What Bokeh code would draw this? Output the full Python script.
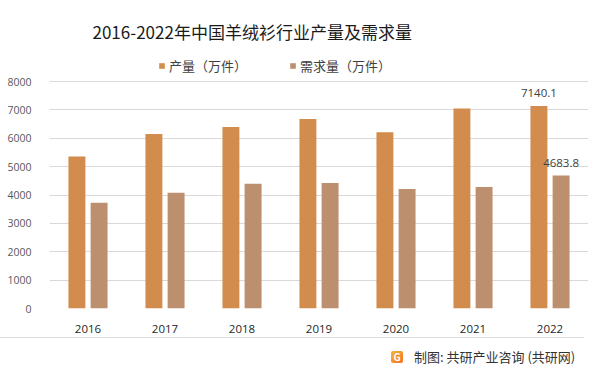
from bokeh.plotting import figure
from bokeh.models import (ColumnDataSource, FactorRange, Range1d, FixedTicker, Legend, LegendItem,
                          LabelSet, Div)
from bokeh.core.properties import value
from bokeh.layouts import column
from bokeh.transform import dodge
from bokeh.embed import file_html
from bokeh.resources import INLINE

years = ["2016", "2017", "2018", "2019", "2020", "2021", "2022"]
production = [5360, 6150, 6400, 6680, 6210, 7050, 7140.1]
demand = [3730, 4080, 4400, 4420, 4210, 4280, 4683.8]
y_ticks = [0, 1000, 2000, 3000, 4000, 5000, 6000, 7000, 8000]
series_names = ["产量（万件）", "需求量（万件）"]
title_text = "2016-2022年中国羊绒衫行业产量及需求量"
source_text = "制图: 共研产业咨询 (共研网)"

FONT = "Noto Sans CJK SC"
NUMFONT = "Open Sans"
C_PROD = "#D28C4D"
C_DEM = "#BC8F6E"

src = ColumnDataSource(dict(year=years, prod=production, dem=demand))
lab_src = ColumnDataSource(dict(year=[years[-1]], prod=[production[-1]], dem=[demand[-1]],
                                prod_t=[f"{production[-1]:.1f}"], dem_t=[f"{demand[-1]:.1f}"]))

p = figure(width=590, height=336, x_range=FactorRange(*years, range_padding=0),
           y_range=Range1d(0, 9163), output_backend="svg", toolbar_location=None,
           min_border_left=49, min_border_right=2, min_border_top=48, min_border_bottom=28)
p.outline_line_color = None
p.background_fill_color = "white"
p.border_fill_color = "white"

r1 = p.vbar(x=dodge("year", -0.144, range=p.x_range), top="prod", width=0.22, source=src,
            fill_color=C_PROD, line_color=None)
r2 = p.vbar(x=dodge("year", 0.144, range=p.x_range), top="dem", width=0.22, source=src,
            fill_color=C_DEM, line_color=None)

p.add_layout(LabelSet(x=dodge("year", -0.144, range=p.x_range), y="prod", text="prod_t", source=lab_src,
                      text_align="center", text_baseline="middle", y_offset=13,
                      text_font=value(NUMFONT), text_font_size=value("11.5px"), text_color="#404040"))
p.add_layout(LabelSet(x=dodge("year", 0.144, range=p.x_range), y="dem", text="dem_t", source=lab_src,
                      text_align="center", text_baseline="middle", y_offset=13,
                      text_font=value(NUMFONT), text_font_size=value("11.5px"), text_color="#404040"))

p.xgrid.grid_line_color = None
p.ygrid.grid_line_color = "#d9d9d9"
p.ygrid.ticker = FixedTicker(ticks=y_ticks)

p.yaxis.ticker = FixedTicker(ticks=y_ticks)
p.yaxis.axis_line_color = None
p.yaxis.major_tick_line_color = None
p.yaxis.minor_tick_line_color = None
p.yaxis.major_label_text_font = NUMFONT
p.yaxis.major_label_text_font_size = "10.5px"
p.yaxis.major_label_text_color = "#595959"
p.yaxis.major_label_standoff = 12

p.xaxis.axis_line_color = None
p.xaxis.major_tick_line_color = None
p.xaxis.minor_tick_line_color = None
p.xaxis.major_label_text_font = NUMFONT
p.xaxis.major_label_text_font_size = "11.5px"
p.xaxis.major_label_text_color = "#262626"
p.xaxis.major_label_standoff = 10

p.title.text = title_text
p.title.text_font = FONT
p.title.text_font_size = "17px"
p.title.text_font_style = "normal"
p.title.text_color = "#1a1a1a"
p.title.align = "left"
p.title.offset = 43
p.title.standoff = 10

legend = Legend(items=[LegendItem(label=series_names[0], renderers=[r1]),
                       LegendItem(label=series_names[1], renderers=[r2])],
                orientation="horizontal", location=(109, 233),
                glyph_width=7, glyph_height=7, label_standoff=4, spacing=42,
                label_text_font=FONT, label_text_font_size="13px", label_text_color="#404040",
                border_line_color=None, background_fill_alpha=0, padding=0, margin=0)
p.add_layout(legend, "center")

footer = Div(width=590, height=34, styles={"margin": "0", "padding": "0"}, text=(
    '<div style="position:relative;width:590px;height:34px;margin:0;padding:0;font-family:\'Noto Sans CJK SC\',sans-serif;">'
    '<div style="position:absolute;left:0px;top:1px;width:584px;height:0px;border-top:1px solid #dedede;"></div>'
    '<div style="position:absolute;left:391px;top:15px;width:12px;height:12px;border-radius:2px;'
    'background:linear-gradient(135deg,#F7B733,#F0702C);color:white;font-size:10px;font-weight:bold;'
    'line-height:12px;text-align:center;">G</div>'
    f'<div style="position:absolute;left:414px;top:12px;font-size:13px;line-height:18px;color:#333333;white-space:nowrap;">{source_text}</div>'
    '</div>'))

open("out.html", "w").write(file_html(column(p, footer, spacing=0), INLINE))
